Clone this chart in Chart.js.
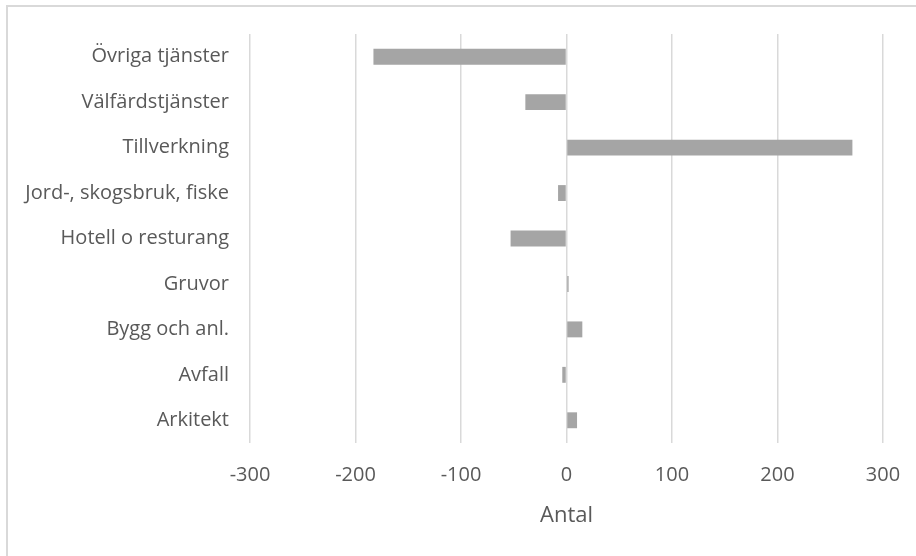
<!DOCTYPE html>
<html>
<head>
<meta charset="utf-8">
<script src="https://cdn.jsdelivr.net/npm/chart.js@4"></script>
<style>
  body { margin: 0; background: #fff; }
  #wrap { position: absolute; left: 0; top: 0; width: 916px; height: 556px; }
  #frame {
    position: absolute; left: 6px; top: 5px; width: 930px; height: 570px;
    border: 2px solid #d9d9d9; pointer-events: none;
  }
</style>
</head>
<body>
<div id="wrap">
  <canvas id="chart" width="916" height="556"></canvas>
  <div id="frame"></div>
</div>
<script>
// Categories (top to bottom) and net change per category
const categories = [
  "Övriga tjänster",
  "Välfärdstjänster",
  "Tillverkning",
  "Jord-, skogsbruk, fiske",
  "Hotell o resturang",
  "Gruvor",
  "Bygg och anl.",
  "Avfall",
  "Arkitekt",
];
const values = [-183, -39, 271, -8, -53, 2, 15, -4, 10];
const axisMin = -300;
const axisMax = 300;
const axisStep = 100;
const axisTitle = "Antal";

const textColor = "#595959";
const fontFamily = "'Open Sans', sans-serif";

const ctx = document.getElementById("chart").getContext("2d");
new Chart(ctx, {
  type: "bar",
  data: {
    labels: categories,
    datasets: [
      {
        data: values,
        backgroundColor: "#a5a5a5",
        borderWidth: 0,
        categoryPercentage: 1,
        barPercentage: 0.35,
      },
    ],
  },
  options: {
    indexAxis: "y",
    responsive: false,
    animation: false,
    layout: {
      padding: { left: 0, top: 34, right: 33, bottom: 0 },
    },
    plugins: {
      legend: { display: false },
      tooltip: { enabled: false },
    },
    scales: {
      x: {
        min: axisMin,
        max: axisMax,
        ticks: {
          stepSize: axisStep,
          color: textColor,
          padding: 20,
          font: { family: fontFamily, size: 20 },
        },
        grid: {
          color: "#d9d9d9",
          lineWidth: 1.5,
          drawTicks: false,
        },
        border: { display: false },
        title: {
          display: true,
          text: axisTitle,
          color: textColor,
          font: { family: fontFamily, size: 22 },
          padding: { top: 0, bottom: 27 },
        },
        afterFit: (scale) => {
          scale.height = 113;
          scale.paddingLeft = 0;
          scale.paddingRight = 0;
        },
      },
      y: {
        ticks: {
          color: textColor,
          padding: 21,
          font: { family: fontFamily, size: 20 },
        },
        grid: { display: false, drawTicks: false },
        border: { display: false },
        afterFit: (scale) => {
          scale.width = 250;
        },
      },
    },
  },
});
</script>
</body>
</html>
